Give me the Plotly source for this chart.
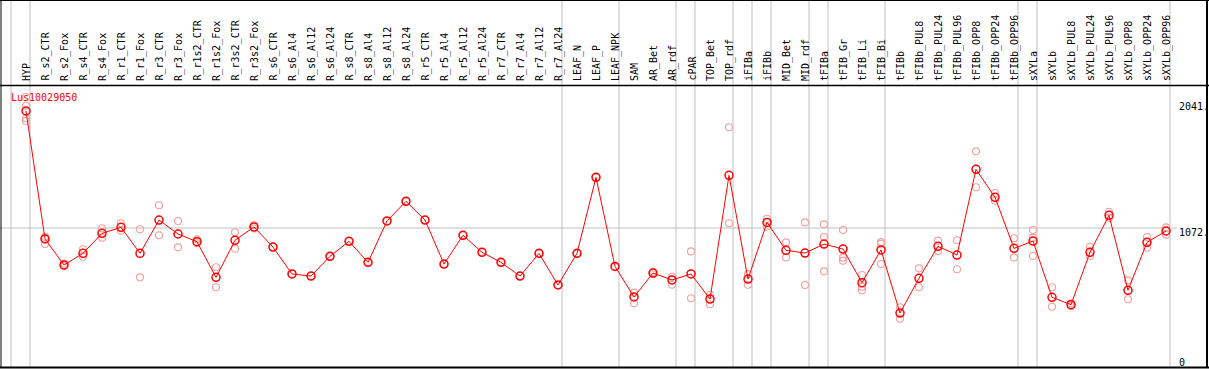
import plotly.graph_objects as go

gene = "Lus10029050"

categories = [
    "HYP", "R_s2_CTR", "R_s2_Fox", "R_s4_CTR", "R_s4_Fox", "R_r1_CTR", "R_r1_Fox",
    "R_r3_CTR", "R_r3_Fox", "R_r1s2_CTR", "R_r1s2_Fox", "R_r3s2_CTR", "R_r3s2_Fox",
    "R_s6_CTR", "R_s6_Al4", "R_s6_Al12", "R_s6_Al24", "R_s8_CTR", "R_s8_Al4",
    "R_s8_Al12", "R_s8_Al24", "R_r5_CTR", "R_r5_Al4", "R_r5_Al12", "R_r5_Al24",
    "R_r7_CTR", "R_r7_Al4", "R_r7_Al12", "R_r7_Al24", "LEAF_N", "LEAF_P", "LEAF_NPK",
    "SAM", "AR_Bet", "AR_rdf", "cPAR", "TOP_Bet", "TOP_rdf", "iFIBa", "iFIBb",
    "MID_Bet", "MID_rdf", "tFIBa", "tFIB_Gr", "tFIB_Li", "tFIB_Bi", "tFIBb",
    "tFIBb_PUL8", "tFIBb_PUL24", "tFIBb_PUL96", "tFIBb_OPP8", "tFIBb_OPP24", "tFIBb_OPP96",
    "sXYLa", "sXYLb", "sXYLb_PUL8", "sXYLb_PUL24", "sXYLb_PUL96", "sXYLb_OPP8",
    "sXYLb_OPP24", "sXYLb_OPP96",
]

means = [
    1968, 988, 789, 878, 1031, 1077, 878, 1133, 1026, 967, 694, 978, 1080,
    926, 720, 704, 855, 970, 809, 1126, 1276, 1133, 796, 1016, 886,
    809, 704, 878, 636, 878, 1460, 778,
    544, 727, 674, 720, 528, 1475, 681, 1115,
    901, 880, 949, 911, 653, 904, 421,
    687, 932, 865, 1521, 1307, 916,
    972, 541, 485, 886, 1169, 595, 962, 1049,
]

replicates = [
    [2075, 2008, 1912, 1891], [1005, 990, 950], [800, 780], [909, 852], [1070, 998],
    [1108, 1051], [1062, 694], [1246, 1016], [1126, 924], [985, 955], [771, 618],
    [1039, 914], [1095, 1068], [926], [720], [704], [855], [970], [809], [1126],
    [1276], [1133], [796], [1016], [886], [809], [704], [878], [636], [878], [1460],
    [778],
    [577, 495], [735, 718], [699, 638], [893, 534], [561, 488], [1843, 1108],
    [720, 638], [1143, 1082], [962, 847], [1115, 636], [1100, 1003, 740],
    [1057, 845, 822], [712, 623, 595], [965, 952, 796], [465, 378],
    [763, 618], [975, 896], [978, 756], [1659, 1384], [1340, 1281], [993, 847],
    [1057, 998, 858], [618, 469], [495, 474], [929, 858], [1197, 1151], [671, 526],
    [1003, 921], [1077, 1021],
]

# last category index of each group (vertical separators)
group_ends = [-1, 0, 28, 31, 34, 35, 37, 38, 39, 41, 42, 45, 52, 53, 60]

y_tick_vals = [0, 1072, 2041]
y_tick_text = ["0", "1072.", "2041."]
grid_y = 1072

# ---- geometry ----
W, H = 1209, 370
PLOT_H = 368
X0_PX, STEP_PX = 26, 19
xmin = -X0_PX / STEP_PX
xmax = xmin + W / STEP_PX
YMAX = grid_y * PLOT_H / (PLOT_H - 228)


def py(px):  # pixel row -> paper y
    return (PLOT_H - px) / PLOT_H


def pxx(px):  # pixel column -> paper x
    return px / W


MONO = "DejaVu Sans Mono, Liberation Mono, monospace"

fig = go.Figure()

rx, ry = [], []
for i, reps in enumerate(replicates):
    for v in reps:
        rx.append(i)
        ry.append(v)

fig.add_trace(go.Scatter(
    x=rx, y=ry, mode="markers",
    marker=dict(symbol="circle-open", size=7, color="#f2a0a0", line=dict(width=1.1, color="#f2a0a0")),
    showlegend=False, hoverinfo="skip",
))
fig.add_trace(go.Scatter(
    x=list(range(len(categories))), y=means, mode="lines+markers",
    line=dict(color="#ff0000", width=1),
    marker=dict(symbol="circle-open", size=8, color="#ff0000", line=dict(width=1.5, color="#ff0000")),
    showlegend=False,
))

shapes = []
# vertical separators
for k in group_ends:
    xv = k + 4 / STEP_PX
    shapes.append(dict(type="line", xref="x", yref="paper", x0=xv, x1=xv, y0=py(368), y1=py(0),
                       line=dict(color="#c0c0c0", width=1), layer="below"))
# horizontal grid line
shapes.append(dict(type="line", xref="paper", yref="y", x0=0, x1=pxx(1177), y0=grid_y, y1=grid_y,
                   line=dict(color="#c0c0c0", width=1), layer="below"))
# frame
frame = [
    (0, 0.5, 1209, 0.5, 1),
    (1, 0, 1, 368, 1),
    (1207, 0, 1207, 368, 2),
    (0, 367.5, 1209, 367.5, 2),
    (0, 85.5, 1209, 85.5, 1.5),
]
for x0, y0, x1, y1, w in frame:
    shapes.append(dict(type="line", xref="paper", yref="paper", x0=pxx(x0), x1=pxx(x1), y0=py(y0), y1=py(y1),
                       line=dict(color="black", width=w)))

annotations = []
for i, c in enumerate(categories):
    annotations.append(dict(x=i, xref="x", y=py(83), yref="paper", text=c, textangle=-90,
                            showarrow=False, xanchor="center", yanchor="bottom", xshift=1,
                            font=dict(family=MONO, size=10, color="black")))
annotations.append(dict(x=pxx(9), xref="paper", y=py(97), yref="paper", text=gene, showarrow=False,
                        xanchor="left", yanchor="middle", font=dict(family=MONO, size=10, color="#ff0000")))
shifts = [6, -4, -5]
for v, t, s in zip(y_tick_vals, y_tick_text, shifts):
    annotations.append(dict(x=pxx(1177), xref="paper", y=v, yref="y", text=t, showarrow=False,
                            xanchor="left", yanchor="middle", yshift=s,
                            font=dict(family=MONO, size=10, color="black")))

fig.update_layout(
    width=W, height=H,
    margin=dict(l=0, r=0, t=0, b=H - PLOT_H),
    paper_bgcolor="white", plot_bgcolor="white",
    xaxis=dict(range=[xmin, xmax], visible=False, fixedrange=True),
    yaxis=dict(range=[0, YMAX], visible=False, fixedrange=True),
    shapes=shapes, annotations=annotations,
)

fig.write_html(
    "out.html",
    config={"displayModeBar": False},
    post_script="document.body.style.margin='0';document.body.style.overflow='hidden';",
)
